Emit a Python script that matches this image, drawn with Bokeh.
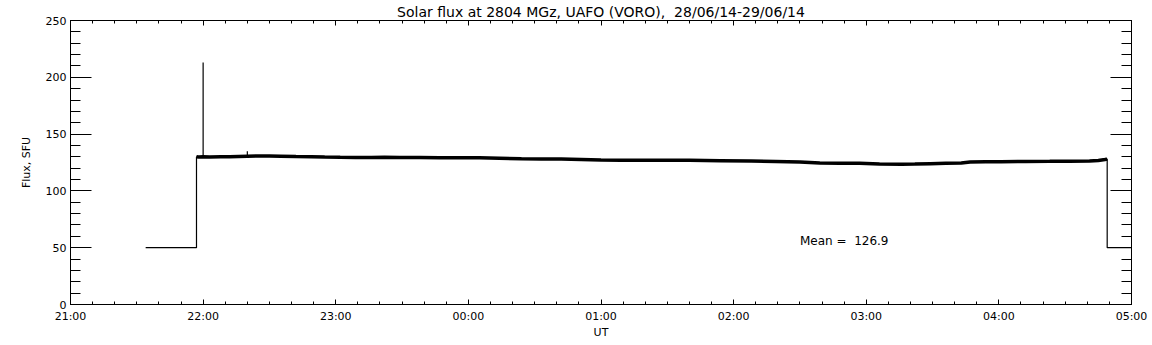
from bokeh.plotting import figure
from bokeh.models import (LinearAxis, FixedTicker, Range1d, Label, CustomJSTickFormatter,
                          ColumnDataSource)
from bokeh.embed import file_html
from bokeh.resources import INLINE

# ---- data ----
title_text = "Solar flux at 2804 MGz, UAFO (VORO),\u00a0\u00a028/06/14-29/06/14"
mean_text = "Mean =\u00a0\u00a0126.9"
x_tick_labels = ["21:00", "22:00", "23:00", "00:00", "01:00", "02:00", "03:00", "04:00", "05:00"]
y_ticks = [0, 50, 100, 150, 200, 250]

times = ["21:34", "21:57", "21:57", "21:58", "22:00", "22:00", "22:00", "22:03", "22:08",
         "22:12", "22:16", "22:20", "22:20", "22:20", "22:24", "22:30", "22:35", "22:42",
         "22:49", "22:55", "23:02", "23:09", "23:16", "23:22", "23:29", "23:38", "23:47",
         "23:56", "00:05", "00:14", "00:24", "00:33", "00:42", "00:51", "01:00", "01:09",
         "01:18", "01:29", "01:40", "01:54", "02:08", "02:19", "02:30", "02:39", "02:48",
         "02:57", "03:06", "03:16", "03:22", "03:29", "03:36", "03:43", "03:47", "03:54",
         "04:01", "04:12", "04:23", "04:32", "04:41", "04:45", "04:48", "04:49", "04:49",
         "05:00"]
flux = [50, 50, 130.0, 129.8, 130.0, 213, 130.0, 129.8, 130.0,
        130.0, 130.3, 130.6, 135, 130.6, 130.8, 130.7, 130.5, 130.2,
        130.0, 129.8, 129.6, 129.5, 129.4, 129.6, 129.4, 129.3, 129.2,
        129.1, 129.2, 128.8, 128.3, 128.1, 128.0, 127.6, 127.2, 127.0,
        126.9, 127.0, 126.9, 126.6, 126.3, 125.9, 125.4, 124.6, 124.4,
        124.3, 123.7, 123.4, 123.6, 124.0, 124.3, 124.6, 125.4, 125.6,
        125.7, 125.9, 126.0, 126.2, 126.3, 126.8, 127.6, 128.0, 50,
        50]


def to_hours(s):
    h, m = map(int, s.split(":"))
    if h < 12:
        h += 24
    return h + m / 60.0


t_hours = [to_hours(s) for s in times]

FONT = "DejaVu Sans"

p = figure(width=1152, height=345, output_backend="svg", toolbar_location=None,
           x_range=Range1d(21, 29), y_range=Range1d(0, 250),
           min_border_left=70, min_border_right=21, min_border_top=19, min_border_bottom=41,
           x_axis_location=None, y_axis_location=None, title=title_text)
p.xgrid.visible = False
p.ygrid.visible = False
p.outline_line_color = "black"
p.background_fill_color = "white"
p.border_fill_color = "white"
p.title.text_font = FONT
p.title.text_font_size = "14px"
p.title.text_font_style = "normal"
p.title.text_color = "black"
p.title.align = "center"
p.title.standoff = 2
p.title.offset = 0

x_major = list(range(21, 30))
x_minor = [21 + k / 6.0 for k in range(0, 49)]
y_minor = list(range(0, 251, 10))
overrides = {h: lab for h, lab in zip(x_major, x_tick_labels)}
blank = CustomJSTickFormatter(code="return ''")


def style(ax, major_in, minor_in, show_labels):
    ax.major_tick_in = major_in
    ax.major_tick_out = 0
    ax.minor_tick_in = minor_in
    ax.minor_tick_out = 0
    ax.axis_line_color = "black"
    ax.major_tick_line_color = "black"
    ax.minor_tick_line_color = "black"
    ax.major_label_text_font = FONT
    ax.major_label_text_color = "black"
    ax.axis_label_text_font = FONT
    ax.axis_label_text_font_style = "normal"
    ax.axis_label_text_color = "black"
    ax.axis_label_text_font_size = "11px"
    if show_labels:
        ax.major_label_text_font_size = "11px"
    else:
        ax.formatter = blank
        ax.major_label_text_font_size = "0px"
        ax.major_label_standoff = 0


xb = LinearAxis(ticker=FixedTicker(ticks=x_major, minor_ticks=x_minor), axis_label="UT")
style(xb, 5, 3, True)
xb.major_label_overrides = overrides
xb.major_label_standoff = 5
xb.axis_label_standoff = 0
p.add_layout(xb, "below")

xt = LinearAxis(ticker=FixedTicker(ticks=x_major, minor_ticks=x_minor))
style(xt, 5, 3, False)
p.add_layout(xt, "above")

yl = LinearAxis(ticker=FixedTicker(ticks=y_ticks, minor_ticks=y_minor), axis_label="Flux, SFU")
style(yl, 21, 10, True)
yl.major_label_standoff = 4
yl.axis_label_standoff = 10
p.add_layout(yl, "left")

yr = LinearAxis(ticker=FixedTicker(ticks=y_ticks, minor_ticks=y_minor))
style(yr, 21, 10, False)
p.add_layout(yr, "right")

# thin trace: full record
src = ColumnDataSource(dict(t=t_hours, f=flux))
p.line("t", "f", source=src, line_color="black", line_width=1.2)

# noisy plateau drawn as a thicker band
plateau = [(t, f) for t, f in zip(t_hours, flux) if 100 < f < 133]
psrc = ColumnDataSource(dict(t=[a for a, _ in plateau], f=[b for _, b in plateau]))
p.line("t", "f", source=psrc, line_color="black", line_width=3.5)

p.add_layout(Label(x=26.5, y=50, text=mean_text, text_font=FONT, text_font_size="12px",
                   text_color="black", text_baseline="bottom", text_align="left"))

open("out.html", "w").write(file_html(p, INLINE))
